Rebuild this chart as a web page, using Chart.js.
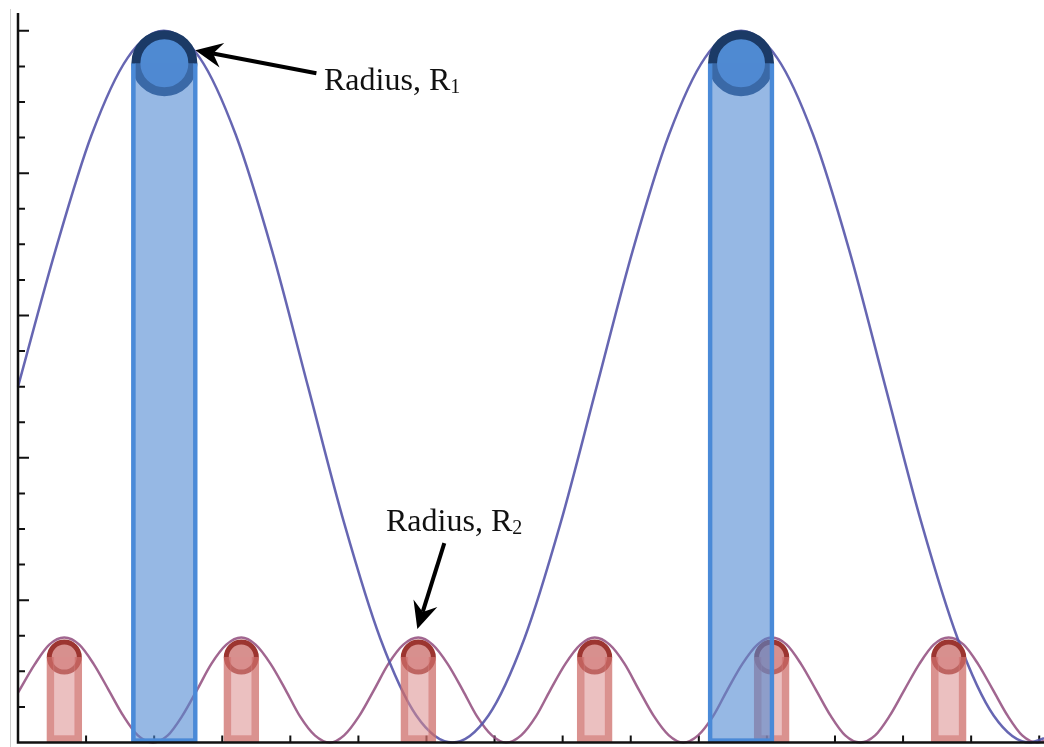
<!doctype html>
<html lang="en">
  <head>
    <meta charset="utf-8">
    <title>Radius R1 / R2</title>
    <style>
      * {
        margin: 0;
        padding: 0;
      }
      body {
        background: #fff;
      }
      .chartBox {
        position: relative;
        width: 1044px;
        height: 747px;
      }
      .chartBox canvas {
        display: block;
      }
      .edge {
        position: absolute;
        left: 10px;
        top: 9px;
        width: 1px;
        height: 738px;
        background: #cfcfcf;
      }
      .label {
        position: absolute;
        font-family: "Liberation Serif", "Times New Roman", serif;
        font-size: 32px;
        line-height: 32px;
        color: #111;
        white-space: nowrap;
      }
      .label span {
        font-size: 20px;
        line-height: 0;
        vertical-align: -3px;
      }
    </style>
  </head>
  <body>
    <div class="chartBox">
      <div class="edge"></div>
      <canvas id="myChart" width="1044" height="747"></canvas>
      <div class="label" style="left: 324px; top: 63px;">Radius, R<span>1</span></div>
      <div class="label" style="left: 386px; top: 504px;">Radius, R<span>2</span></div>
    </div>
    <script src="https://cdn.jsdelivr.net/npm/chart.js"></script>
    <script>
    // big wave (R1)
    const blueX = [0, 0.55, 1.08, 1.61, 2.14, 2.67, 3.2, 3.73, 4.26, 4.79, 5.32, 5.85, 6.38, 6.91, 7.44,
      7.97, 8.5, 9.03, 9.56, 10.09, 10.62, 11.15, 11.68, 12.21, 12.74, 13.27, 13.8, 14.33, 14.86, 15.07];
    const blueY = [10, 13.83, 17.07, 19.24, 20, 19.24, 17.07, 13.83, 10, 6.17, 2.93, 0.76, 0, 0.76, 2.93,
      6.17, 10, 13.83, 17.07, 19.24, 20, 19.24, 17.07, 13.83, 10, 6.17, 2.93, 0.76, 0, 0.12];

    // small wave (R2)
    const redX = [0, 0.25, 0.46, 0.68, 0.9, 1.11, 1.33, 1.55, 1.76, 1.98, 2.2, 2.41,
      2.63, 2.84, 3.06, 3.28, 3.49, 3.71, 3.93, 4.14, 4.36, 4.58, 4.79, 5.01,
      5.23, 5.44, 5.66, 5.88, 6.09, 6.31, 6.53, 6.74, 6.96, 7.17, 7.39, 7.61,
      7.82, 8.04, 8.26, 8.47, 8.69, 8.91, 9.12, 9.34, 9.56, 9.77, 9.99, 10.21,
      10.42, 10.64, 10.86, 11.07, 11.29, 11.5, 11.72, 11.94, 12.15, 12.37, 12.59, 12.8,
      13.02, 13.24, 13.45, 13.67, 13.89, 14.1, 14.32, 14.54, 14.75, 14.97, 15.07];
    const redY = [1.4, 2.21, 2.75, 2.95, 2.75, 2.21, 1.48, 0.74, 0.2, 0, 0.2, 0.74,
      1.48, 2.21, 2.75, 2.95, 2.75, 2.21, 1.48, 0.74, 0.2, 0, 0.2, 0.74,
      1.48, 2.21, 2.75, 2.95, 2.75, 2.21, 1.48, 0.74, 0.2, 0, 0.2, 0.74,
      1.48, 2.21, 2.75, 2.95, 2.75, 2.21, 1.48, 0.74, 0.2, 0, 0.2, 0.74,
      1.48, 2.21, 2.75, 2.95, 2.75, 2.21, 1.48, 0.74, 0.2, 0, 0.2, 0.74,
      1.48, 2.21, 2.75, 2.95, 2.75, 2.21, 1.48, 0.74, 0.2, 0, 0.04];

    // rods with a ball on top
    const blueBarX = [2.15, 10.62];
    const blueBarTop = [19.09, 19.09];
    const redBarX = [0.68, 3.28, 5.88, 8.47, 11.07, 13.67];
    const redBarTop = [2.4, 2.4, 2.4, 2.4, 2.4, 2.4];

    // axis ticks (no labels)
    const xTicks = [1, 2, 3, 4, 5, 6, 7, 8, 9, 10, 11, 12, 13, 14, 15];
    const yTicks = [1, 2, 3, 4, 5, 6, 7, 8, 9, 10, 11, 12, 13, 14, 15, 16, 17, 18, 19, 20];
    const yMajorEvery = 4;

    const pts = (xs, ys) => xs.map((x, i) => ({x: x, y: ys[i]}));

    function drawArrow(ctx, x1, y1, x2, y2) {
      const a = Math.atan2(y2 - y1, x2 - x1);
      const c = Math.cos(a), s = Math.sin(a);
      const L = 27, W = 12.5, N = 18;
      ctx.beginPath();
      ctx.moveTo(x1, y1);
      ctx.lineTo(x2 - N * c, y2 - N * s);
      ctx.stroke();
      const bx = x2 - L * c, by = y2 - L * s;
      ctx.beginPath();
      ctx.moveTo(x2, y2);
      ctx.lineTo(bx - W * s, by + W * c);
      ctx.lineTo(x2 - N * c, y2 - N * s);
      ctx.lineTo(bx + W * s, by - W * c);
      ctx.closePath();
      ctx.fill();
    }

    const axesPlugin = {
      id: 'axesPlugin',
      beforeDatasetsDraw(chart) {
        const {ctx, chartArea: area, scales: {x, y}} = chart;
        ctx.save();
        ctx.strokeStyle = '#111';
        ctx.lineWidth = 2;
        ctx.beginPath();
        yTicks.forEach(v => {
          const py = y.getPixelForValue(v);
          const len = v % yMajorEvery === 0 ? 11 : 7;
          ctx.moveTo(area.left, py);
          ctx.lineTo(area.left + len, py);
        });
        xTicks.forEach(v => {
          const px = x.getPixelForValue(v);
          ctx.moveTo(px, area.bottom);
          ctx.lineTo(px, area.bottom - 7);
        });
        ctx.stroke();
        ctx.restore();
      },
      afterDatasetsDraw(chart) {
        const {ctx, chartArea: area, scales: {x, y}} = chart;
        ctx.save();
        ctx.strokeStyle = '#111';
        ctx.lineWidth = 2.5;
        ctx.beginPath();
        ctx.moveTo(area.left, area.top);
        ctx.lineTo(area.left, area.bottom);
        ctx.lineTo(area.right, area.bottom);
        ctx.stroke();

        // arrows pointing at the balls
        ctx.strokeStyle = '#000';
        ctx.fillStyle = '#000';
        ctx.lineWidth = 4;
        const b = {x: x.getPixelForValue(blueBarX[0]), y: y.getPixelForValue(blueBarTop[0])};
        drawArrow(ctx, b.x + 152, b.y + 10, b.x + 31, b.y - 13);
        const r = {x: x.getPixelForValue(redBarX[2]), y: y.getPixelForValue(redBarTop[2])};
        drawArrow(ctx, r.x + 26, r.y - 114, r.x - 1, r.y - 28);
        ctx.restore();
      }
    };

    const data = {
      datasets: [
        {
          type: 'bar',
          data: pts(blueBarX, blueBarTop),
          backgroundColor: 'rgba(80, 136, 210, 0.6)',
          borderColor: 'rgb(74, 138, 216)',
          borderWidth: 4,
          borderSkipped: 'top',
          barThickness: 66,
          grouped: false,
          order: 0
        },
        {
          type: 'bar',
          data: pts(redBarX, redBarTop),
          backgroundColor: 'rgba(218, 140, 140, 0.55)',
          borderColor: 'rgba(205, 110, 106, 0.75)',
          borderWidth: 7,
          borderSkipped: 'top',
          barThickness: 35,
          grouped: false,
          order: 0
        },
        {
          type: 'scatter',
          data: pts(blueBarX, blueBarTop),
          pointRadius: 28.5,
          pointBorderWidth: 9,
          pointBackgroundColor: 'rgb(79, 138, 210)',
          pointBorderColor: 'rgb(27, 58, 102)',
          clip: false,
          order: 1
        },
        {
          type: 'scatter',
          data: pts(redBarX, redBarTop),
          pointRadius: 15,
          pointBorderWidth: 5,
          pointBackgroundColor: 'rgb(215, 144, 142)',
          pointBorderColor: 'rgb(156, 53, 48)',
          clip: false,
          order: 1
        },
        {
          type: 'line',
          data: pts(blueX, blueY),
          borderColor: 'rgba(85, 85, 170, 0.9)',
          borderWidth: 2.5,
          pointRadius: 0,
          cubicInterpolationMode: 'monotone',
          fill: false,
          clip: false,
          order: 2
        },
        {
          type: 'line',
          data: pts(redX, redY),
          borderColor: 'rgba(145, 75, 125, 0.85)',
          borderWidth: 2.5,
          pointRadius: 0,
          cubicInterpolationMode: 'monotone',
          fill: false,
          clip: false,
          order: 2
        }
      ]
    };

    const config = {
      type: 'line',
      data,
      options: {
        responsive: false,
        devicePixelRatio: 1,
        animation: false,
        events: [],
        layout: {
          autoPadding: false,
          padding: {left: 18, right: 0, top: 13, bottom: 4.5}
        },
        plugins: {
          legend: {display: false},
          tooltip: {enabled: false}
        },
        scales: {
          x: {
            type: 'linear',
            min: 0,
            max: 15.07,
            offset: false,
            display: false,
            grid: {offset: false}
          },
          y: {
            type: 'linear',
            min: 0,
            max: 20.5,
            display: false
          }
        }
      },
      plugins: [axesPlugin]
    };

    const myChart = new Chart(
      document.getElementById('myChart'),
      config
    );
    </script>
  </body>
</html>
